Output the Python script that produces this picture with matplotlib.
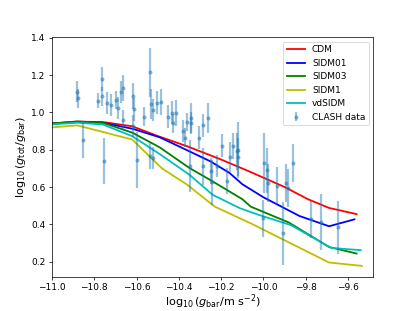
import numpy as np
import matplotlib
matplotlib.use('Agg')
import matplotlib.pyplot as plt

# model curves
x_cdm = [-11.0, -10.88, -10.76, -10.62, -10.5, -10.36, -10.2, -10.06, -9.9, -9.79, -9.69, -9.56]
y_cdm = [0.94, 0.95, 0.948, 0.925, 0.873, 0.818, 0.747, 0.68, 0.6, 0.535, 0.488, 0.455]

x_sidm01 = [-11.0, -10.88, -10.76, -10.62, -10.49, -10.35, -10.25, -10.16, -10.1, -10.0, -9.83, -9.69, -9.57]
y_sidm01 = [0.94, 0.948, 0.944, 0.912, 0.866, 0.791, 0.737, 0.675, 0.615, 0.545, 0.445, 0.39, 0.427]

x_sidm03 = [-11.0, -10.88, -10.76, -10.62, -10.49, -10.35, -10.24, -10.1, -10.06, -9.88, -9.69, -9.56]
y_sidm03 = [0.94, 0.951, 0.944, 0.891, 0.812, 0.702, 0.63, 0.535, 0.495, 0.41, 0.279, 0.244]

x_sidm1 = [-11.0, -10.88, -10.62, -10.48, -10.36, -10.23, -10.05, -9.69, -9.535]
y_sidm1 = [0.919, 0.93, 0.854, 0.70, 0.612, 0.495, 0.40, 0.196, 0.178]

x_vd = [-11.0, -10.88, -10.76, -10.62, -10.49, -10.35, -10.24, -10.11, -10.02, -9.87, -9.68, -9.54]
y_vd = [0.935, 0.944, 0.935, 0.872, 0.776, 0.666, 0.558, 0.486, 0.45, 0.396, 0.274, 0.262]

# CLASH data
x_clash = [-10.883, -10.876, -10.852, -10.784, -10.765, -10.765, -10.753, -10.741, -10.722, -10.699,
           -10.689, -10.675, -10.666, -10.662, -10.618, -10.61, -10.615, -10.6, -10.563, -10.536,
           -10.532, -10.524, -10.536, -10.521, -10.502, -10.484, -10.45, -10.434, -10.426, -10.415,
           -10.379, -10.371, -10.363, -10.347, -10.344, -10.344, -10.305, -10.287, -10.284, -10.26,
           -10.249, -10.245, -10.218, -10.197, -10.174, -10.158, -10.142, -10.127, -10.12, -10.118,
           -10.003, -9.996, -9.984, -9.977, -9.934, -9.909, -9.894, -9.885, -9.858, -9.776,
           -9.728, -9.65]
y_clash = [1.111, 1.075, 0.854, 1.061, 1.178, 1.085, 0.74, 1.049, 1.04, 1.065,
           1.022, 1.109, 1.128, 0.96, 1.085, 1.016, 0.926, 0.745, 0.977, 1.214,
           1.043, 1.011, 0.764, 0.755, 1.052, 1.056, 0.977, 0.998, 0.941, 0.998,
           0.899, 0.864, 0.948, 0.711, 0.971, 0.944, 0.864, 0.93, 0.711, 0.971,
           0.684, 0.626, 0.711, 0.822, 0.63, 0.761, 0.818, 0.791, 0.80, 0.761,
           0.432, 0.729, 0.689, 0.621, 0.607, 0.352, 0.621, 0.594, 0.729, 0.427,
           0.414, 0.384]
e_clash = [0.055, 0.05, 0.1, 0.04, 0.065, 0.05, 0.125, 0.06, 0.06, 0.05,
           0.06, 0.06, 0.07, 0.05, 0.07, 0.06, 0.06, 0.15, 0.05, 0.13,
           0.08, 0.06, 0.07, 0.06, 0.06, 0.07, 0.06, 0.06, 0.05, 0.07,
           0.06, 0.05, 0.05, 0.14, 0.08, 0.06, 0.06, 0.06, 0.1, 0.08,
           0.07, 0.12, 0.06, 0.06, 0.07, 0.08, 0.07, 0.1, 0.15, 0.1,
           0.1, 0.16, 0.12, 0.1, 0.1, 0.17, 0.1, 0.1, 0.1, 0.1,
           0.15, 0.14]

plt.figure(figsize=(6.4, 4.8), dpi=64.84)
plt.plot(x_cdm, y_cdm, color='r', lw=2, label='CDM')
plt.plot(x_sidm01, y_sidm01, color='b', lw=2, label='SIDM01')
plt.plot(x_sidm03, y_sidm03, color='g', lw=2, label='SIDM03')
plt.plot(x_sidm1, y_sidm1, color='y', lw=2, label='SIDM1')
plt.plot(x_vd, y_vd, color='c', lw=2, label='vdSIDM')
plt.errorbar(x_clash, y_clash, yerr=e_clash, fmt='o', color='C0', alpha=0.45,
             markersize=3.5, elinewidth=2.5, label='CLASH data')

plt.xlim(-11.0, -9.48)
plt.xlabel(r'$\log_{10}(g_{\rm bar}/{\rm m\ s^{-2}})$', fontsize=12.5, labelpad=0.5)
plt.ylabel(r'$\log_{10}(g_{\rm tot}/g_{\rm bar})$', fontsize=12.5)
plt.legend(loc='upper right')
plt.savefig('out.png', dpi=64.84)
